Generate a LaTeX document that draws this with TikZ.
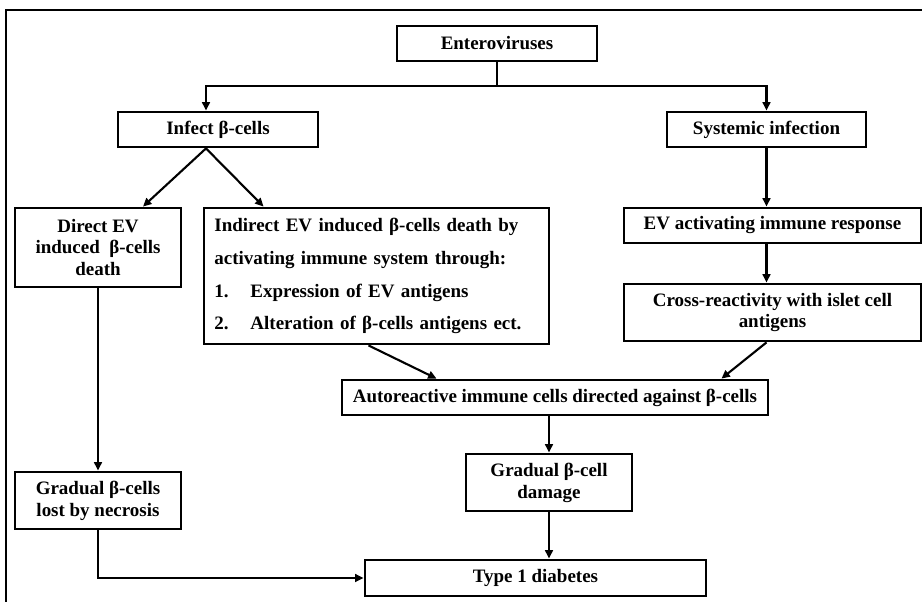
\documentclass[tikz,border=0pt]{standalone}
\usepackage{fontspec}
\setmainfont{Liberation Serif}
\usetikzlibrary{arrows.meta,calc}

\begin{document}
\begin{tikzpicture}[x=0.025cm,y=-0.025cm,
  box/.style={draw,line width=2pt,inner sep=0pt,align=center,
    font=\bfseries\fontsize{13.5}{15.6}\selectfont},
  arr/.style={line width=1.5pt,-{Triangle[length=6pt,width=5.5pt]}}]

\useasboundingbox (0,0) rectangle (922,602);

%% frame
\draw[line width=1.5pt] (6,602) -- (6,10) -- (922,10);

%% boxes
\node[box,minimum width=5cm,minimum height=0.875cm] (ent) at (497,43.5) {Enteroviruses};
\node[box,minimum width=5cm,minimum height=0.875cm] (infect) at (218,129.5) {Infect β-cells};
\node[box,minimum width=4.975cm,minimum height=0.875cm] (sys) at (766.5,129.5) {Systemic infection};
\node[box,minimum width=4.15cm,minimum height=1.975cm] (direct) at (98,247.5) {Direct EV\\ induced~ β-cells\\ death};
\node[box,minimum width=8.625cm,minimum height=3.4cm,text width=8.1cm,align=left,
  font=\bfseries\fontsize{13.5}{23.4}\selectfont] (indirect) at (376.5,276)
  {Indirect EV induced β-cells death by\\
   activating immune system through:\\
   \makebox[0.9cm][l]{1.}Expression of EV antigens\\
   \makebox[0.9cm][l]{2.}Alteration of β-cells antigens ect.};
\node[box,minimum width=7.425cm,minimum height=0.875cm] (evact) at (772.5,225.5) {EV activating immune response};
\node[box,minimum width=7.425cm,minimum height=1.425cm] (cross) at (772.5,312.5) {Cross-reactivity with islet cell\\ antigens};
\node[box,minimum width=10.65cm,minimum height=0.875cm] (auto) at (555,397.5) {Autoreactive immune cells directed against β-cells};
\node[box,minimum width=4.15cm,minimum height=1.425cm] (dmg) at (549,482.5) {Gradual β-cell\\ damage};
\node[box,minimum width=4.15cm,minimum height=1.425cm] (lost) at (98,500.5) {Gradual β-cells\\ lost by necrosis};
\node[box,minimum width=8.525cm,minimum height=0.9cm] (t1d) at (535.5,578) {Type 1 diabetes};

%% split points
\coordinate (split) at (497,86);
\coordinate (lft) at (206,86);

%% arrows
\draw[line width=1.5pt] (ent) -- (split);
\draw[arr] (split) -- (lft) -- (lft |- infect.north);           %% ent - infect
\draw[arr] (split) -| (sys.north);                               %% ent - sys
\draw[arr] (lft |- infect.south) -- ($(direct.north)+(45,0)$);   %% infect - direct
\draw[arr] (lft |- infect.south) -- ($(indirect.north west)+(61,0)$); %% infect - indirect
\draw[arr] (direct) -- (lost);                                   %% direct - lost
\draw[arr] (lost.south) |- (t1d.west);                           %% lost - t1d
\draw[arr] (sys.south) -- (sys.south |- evact.north);            %% sys - evact
\draw[arr] (sys.south |- evact.south) -- (sys.south |- cross.north); %% evact - cross
\draw[arr] ($(indirect.south)+(-8,0)$) -- ($(auto.north west)+(96,0)$); %% indirect - auto
\draw[arr] (sys.south |- cross.south) -- ($(auto.north east)+(-48,0)$); %% cross - auto
\draw[arr] (dmg.north |- auto.south) -- (dmg.north);             %% auto - dmg
\draw[arr] (dmg.south) -- (dmg.south |- t1d.north);              %% dmg - t1d
\end{tikzpicture}
\end{document}
